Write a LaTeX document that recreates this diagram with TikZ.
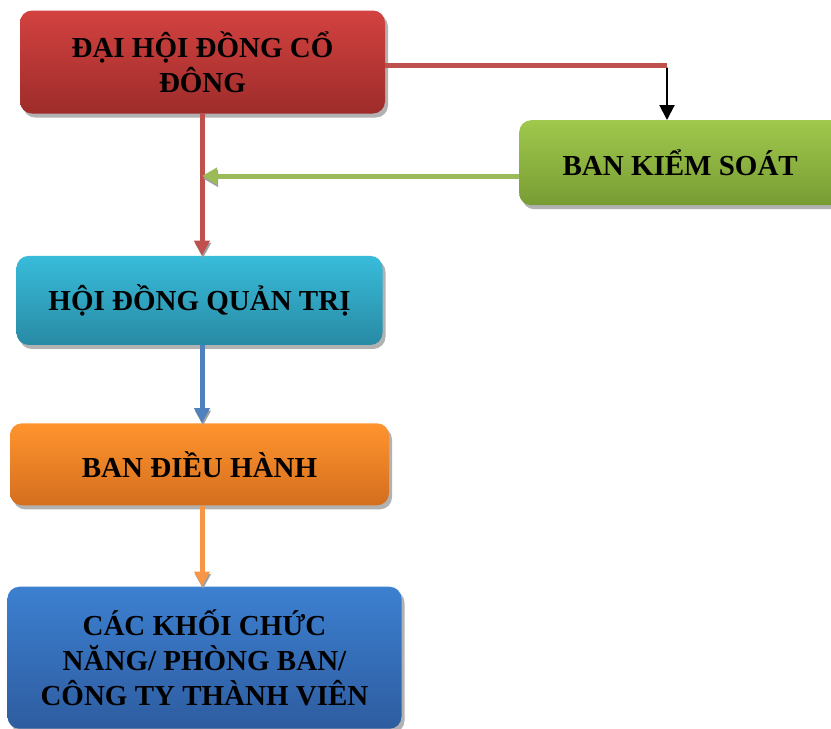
\documentclass[tikz,border=0pt]{standalone}
\usepackage{fontspec}
\setmainfont{Liberation Serif}
\usetikzlibrary{positioning,shadows,arrows.meta}
\definecolor{dhtop}{RGB}{210,66,64}
\definecolor{dhbot}{RGB}{158,44,42}
\definecolor{kstop}{RGB}{160,200,76}
\definecolor{ksbot}{RGB}{120,156,52}
\definecolor{hqtop}{RGB}{56,188,218}
\definecolor{hqbot}{RGB}{40,138,164}
\definecolor{bdtop}{RGB}{255,148,46}
\definecolor{bdbot}{RGB}{212,110,30}
\definecolor{cktop}{RGB}{60,128,208}
\definecolor{ckbot}{RGB}{46,92,160}
\definecolor{redline}{RGB}{192,80,77}
\definecolor{greenline}{RGB}{155,187,89}
\definecolor{blueline}{RGB}{79,129,189}
\definecolor{orangeline}{RGB}{247,150,70}
\begin{document}
\begin{tikzpicture}[x=1pt, y=-1pt,
  box/.style={rounded corners=12pt, inner sep=0pt, align=center,
    font=\fontsize{29}{35}\selectfont\bfseries,
    drop shadow={shadow xshift=3pt, shadow yshift=-4pt, fill=gray!60, opacity=1}},
  link/.style={line width=5pt, preaction={draw=gray!75, transform canvas={xshift=1pt, yshift=-2.5pt}}},
  tip/.style={-{Triangle[width=15pt, length=15pt]}}]
\useasboundingbox (0,0) rectangle (831,729);
\node(DH) [box, top color=dhtop, bottom color=dhbot, minimum width=365pt, minimum height=103pt] at (202.5,62) {ĐẠI HỘI ĐỒNG CỔ\\ĐÔNG};
\node(KS) [box, top color=kstop, bottom color=ksbot, minimum width=330pt, minimum height=85pt, anchor=north west] at (519,120) {\hspace*{-8pt}BAN KIỂM SOÁT};
\node(HQ) [box, top color=hqtop, bottom color=hqbot, minimum width=366pt, minimum height=89pt, below=142pt of DH, xshift=-3pt] {HỘI ĐỒNG QUẢN TRỊ};
\node(BD) [box, top color=bdtop, bottom color=bdbot, minimum width=379pt, minimum height=82pt, below=78pt of HQ] {BAN ĐIỀU HÀNH};
\node(CK) [box, top color=cktop, bottom color=ckbot, minimum width=394pt, minimum height=142pt, below=81pt of BD, xshift=5pt] {CÁC KHỐI CHỨC\\NĂNG/ PHÒNG BAN/\\CÔNG TY THÀNH VIÊN};
\coordinate(turn) at (667,65);
\coordinate(join) at (202,176);
\draw[link, draw=redline, tip] (DH.south -| join) -- (HQ.north -| join);
\draw[link, draw=redline] (DH.east |- turn) -- (turn);
\draw[line width=2pt, tip] ([yshift=-3pt]turn) -- (turn |- KS.north);
\draw[link, draw=greenline, -{Triangle[width=16pt, length=15pt]}] (KS.west |- join) -- (join);
\draw[link, draw=blueline, tip] (HQ.south -| join) -- (BD.north -| join);
\draw[link, draw=orangeline, tip] (BD.south -| join) -- (CK.north -| join);
\end{tikzpicture}
\end{document}
